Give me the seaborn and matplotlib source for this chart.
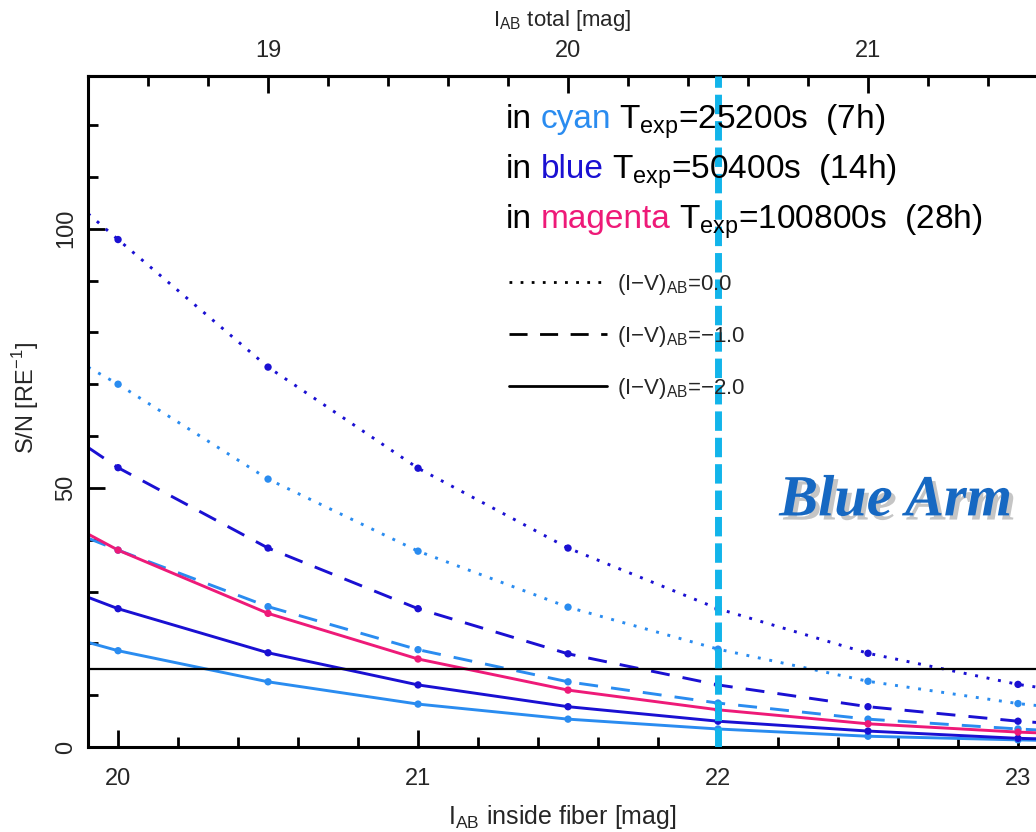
import matplotlib
matplotlib.use("Agg")
import matplotlib.pyplot as plt
from matplotlib.ticker import MultipleLocator, FixedLocator
from matplotlib.lines import Line2D
from matplotlib.offsetbox import TextArea, HPacker, VPacker, AnchoredOffsetbox
import matplotlib.patheffects as pe
import pandas as pd
import seaborn as sns

# magnitudes inside fiber; first value is the left axis edge (line only, no dot)
mags = [19.9, 20.0, 20.5, 21.0, 21.5, 22.0, 22.5, 23.0, 23.5]

# S/N per resolution element
cyan_00 = [73.3, 70.0, 51.7, 37.8, 27.0, 18.9, 12.7, 8.4, 5.4]
cyan_10 = [40.3, 38.0, 27.1, 18.8, 12.6, 8.5, 5.4, 3.5, 2.1]
cyan_20 = [20.2, 18.6, 12.6, 8.3, 5.4, 3.5, 2.1, 1.4, 0.8]
blue_00 = [102.9, 97.9, 73.3, 53.8, 38.4, 26.7, 18.1, 12.1, 7.9]
blue_10 = [57.8, 53.9, 38.4, 26.7, 18.0, 12.0, 7.8, 5.0, 3.1]
blue_20 = [28.9, 26.7, 18.2, 12.0, 7.8, 5.0, 3.1, 1.7, 1.0]
magenta_20 = [41.1, 38.0, 25.8, 17.0, 11.0, 7.2, 4.5, 2.9, 1.8]

sn_limit = 15
cut_mag = 22.0
top_offset = 1.5  # I_AB total = I_AB fiber - 1.5

exp_names = ["cyan", "blue", "magenta"]
exp_times = ["25200s  (7h)", "50400s  (14h)", "100800s  (28h)"]
colours = ["0.0", "-1.0", "-2.0"]
palette = {"cyan": "#2a8cf0", "blue": "#1a10d2", "magenta": "#ee1a78"}

series = {
    ("cyan", "0.0"): cyan_00, ("cyan", "-1.0"): cyan_10, ("cyan", "-2.0"): cyan_20,
    ("blue", "0.0"): blue_00, ("blue", "-1.0"): blue_10, ("blue", "-2.0"): blue_20,
    ("magenta", "-2.0"): magenta_20,
}
rows = []
for (exp, col), vals in series.items():
    for m, v in zip(mags, vals):
        rows.append({"mag": m, "sn": v, "exp": exp, "col": col})
df = pd.DataFrame(rows)
pts = df[df["mag"] >= 20.0]

sns.set_theme(style="ticks")
plt.rcParams["font.family"] = ["Liberation Sans", "DejaVu Sans"]
plt.rcParams["mathtext.fontset"] = "custom"
plt.rcParams["mathtext.rm"] = "Liberation Sans"

fig = plt.figure(figsize=(10.36, 8.32), dpi=100)
ax = fig.add_axes([0.085, 0.102, 0.915, 0.807])

dash_map = {"0.0": (1, 3), "-1.0": (6.5, 4.5), "-2.0": ""}
sns.lineplot(data=df, x="mag", y="sn", hue="exp", style="col", palette=palette,
             dashes=dash_map, lw=2.1, legend=False, ax=ax, estimator=None)
sns.scatterplot(data=pts, x="mag", y="sn", hue="exp", palette=palette, s=28,
                edgecolor="none", legend=False, ax=ax, zorder=3)

ax.axhline(sn_limit, color="black", lw=1.6, zorder=2)
ax.axvline(cut_mag, color="#12b4ea", lw=5, dashes=(2.8, 1.0), zorder=4)

ax.set_xlim(19.9, 23.06)
ax.set_ylim(0, 129.5)

for side in ["left", "bottom", "top"]:
    ax.spines[side].set_linewidth(2.2)
    ax.spines[side].set_color("black")
ax.spines["right"].set_visible(False)

ax.xaxis.set_major_locator(FixedLocator([20, 21, 22, 23]))
ax.xaxis.set_minor_locator(MultipleLocator(0.2))
ax.yaxis.set_major_locator(MultipleLocator(50))
ax.yaxis.set_minor_locator(MultipleLocator(10))
ax.tick_params(which="both", direction="in", color="black", width=2, labelsize=17)
ax.tick_params(axis="x", pad=15)
ax.tick_params(axis="y", pad=8)
ax.tick_params(which="major", length=12)
ax.tick_params(which="minor", length=7)
ax.tick_params(axis="y", which="both", right=False)
for lab in ax.get_yticklabels():
    lab.set_rotation(90)
    lab.set_va("center")

ax.set_xlabel(r"I$_\mathregular{AB}$ inside fiber [mag]", fontsize=18)
ax.xaxis.set_label_coords(0.5, -0.104)
ax.xaxis.label.set_va("center")
ax.set_ylabel(r"S/N [RE$^{\mathregular{-1}}$]", fontsize=17)
ax.yaxis.set_label_coords(-0.05, 0.52)

top = ax.secondary_xaxis("top", functions=(lambda x: x - top_offset, lambda x: x + top_offset))
top.xaxis.set_major_locator(FixedLocator([19, 20, 21]))
top.xaxis.set_minor_locator(MultipleLocator(0.2))
top.tick_params(which="both", direction="in", color="black", width=2, labelsize=17, pad=10)
top.tick_params(which="major", length=12)
top.tick_params(which="minor", length=7)
top.spines["top"].set_linewidth(2.2)
top.set_xlabel(r"I$_\mathregular{AB}$ total [mag]", fontsize=16, labelpad=10)

# exposure time annotation
text_rows = []
for name, t in zip(exp_names, exp_times):
    text_rows.append(HPacker(children=[
        TextArea("in", textprops=dict(fontsize=24, color="black")),
        TextArea(name, textprops=dict(fontsize=24, color=palette[name])),
        TextArea(r"T$_\mathregular{exp}$=" + t, textprops=dict(fontsize=24, color="black")),
    ], align="baseline", pad=0, sep=6))
box = VPacker(children=text_rows, align="left", pad=0, sep=8)
anch = AnchoredOffsetbox(loc="upper left", child=box, frameon=False, pad=0,
                         bbox_to_anchor=(0.433, 0.972), bbox_transform=ax.transAxes)
ax.add_artist(anch)

# line style legend
handles = [Line2D([], [], color="black", lw=2, dashes=dash_map[c] if c != "-2.0" else (None, None))
           for c in colours]
labels = [r"(I$-$V)$_\mathregular{AB}$=" + c.replace("-", "\u2212") for c in colours]
ax.legend(handles, labels, loc="upper left", bbox_to_anchor=(0.423, 0.738), frameon=False,
          fontsize=16, handlelength=4.4, handletextpad=0.45, labelspacing=1.22)

ax.text(0.852, 0.366, "Blue Arm", transform=ax.transAxes, ha="center", va="center",
        fontsize=42, fontweight="bold", fontstyle="italic", family="Liberation Serif",
        color="#1668c2",
        path_effects=[pe.withSimplePatchShadow(offset=(3, -3), shadow_rgbFace="0.5", alpha=0.45)])

fig.savefig("out.png", dpi=100)
